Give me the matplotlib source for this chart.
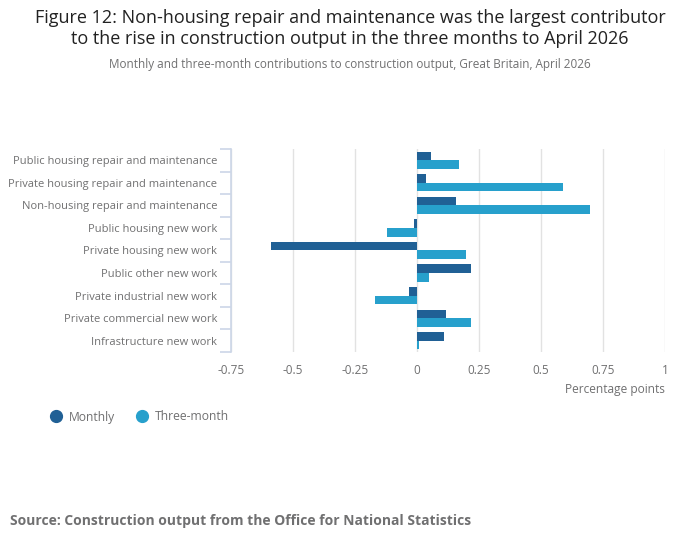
import numpy as np
import matplotlib.pyplot as plt
from matplotlib.lines import Line2D
from matplotlib.ticker import FixedLocator

plt.rcParams['font.family'] = ['Open Sans', 'DejaVu Sans']

# Data
categories = [
    'Public housing repair and maintenance',
    'Private housing repair and maintenance',
    'Non-housing repair and maintenance',
    'Public housing new work',
    'Private housing new work',
    'Public other new work',
    'Private industrial new work',
    'Private commercial new work',
    'Infrastructure new work',
]
monthly = [0.056, 0.036, 0.157, -0.012, -0.589, 0.218, -0.032, 0.117, 0.109]
three_month = [0.17, 0.589, 0.698, -0.121, 0.198, 0.048, -0.169, 0.218, 0.008]
xticks = [-0.75, -0.5, -0.25, 0, 0.25, 0.5, 0.75, 1]
xtick_labels = ['-0.75', '-0.5', '-0.25', '0', '0.25', '0.5', '0.75', '1']
series_names = ['Monthly', 'Three-month']

c_month = '#206095'
c_three = '#27a0cc'
grey = '#707071'

fig = plt.figure(figsize=(7, 5.49), dpi=100)
ax = fig.add_axes([231 / 700, 1 - 352 / 549, 434 / 700, 203 / 549])

y = np.arange(len(categories))
h = 0.38
ax.barh(y - h / 2, monthly, height=h, color=c_month, zorder=3)
ax.barh(y + h / 2, three_month, height=h, color=c_three, zorder=3)

ax.set_xlim(-0.75, 1)
ax.set_ylim(len(categories) - 0.5, -0.5)
ax.set_xticks(xticks)
ax.set_xticklabels(xtick_labels)
ax.set_yticks(y)
ax.set_yticklabels(categories)
ax.yaxis.set_minor_locator(FixedLocator(np.arange(-0.5, len(categories), 1)))

ax.grid(axis='x', color='#e2e2e2', linewidth=1, zorder=0)
for s in ['top', 'right', 'bottom']:
    ax.spines[s].set_visible(False)
ax.spines['left'].set_color('#ccd6e8')
ax.spines['left'].set_linewidth(1.2)

ax.tick_params(axis='x', length=0, pad=9, labelsize=8.5, labelcolor=grey)
ax.tick_params(axis='y', which='major', length=0, pad=10, labelsize=8, labelcolor=grey)
ax.tick_params(axis='y', which='minor', length=8, width=1.2, color='#ccd6e8')

fig.text(665 / 700, 1 - 389 / 549, 'Percentage points', ha='right',
         va='center', fontsize=8.6, color=grey)

fig.text(0.5, 1 - 18 / 549, 'Figure 12: Non-housing repair and maintenance was the largest contributor',
         ha='center', va='center', fontsize=13, color='#222222')
fig.text(0.5, 1 - 39 / 549, 'to the rise in construction output in the three months to April 2026',
         ha='center', va='center', fontsize=13, color='#222222')
fig.text(0.5, 1 - 64 / 549, 'Monthly and three-month contributions to construction output, Great Britain, April 2026',
         ha='center', va='center', fontsize=8.5, color=grey)

# legend drawn by hand to match the web layout
legend_x = [56, 142]
for lx, name, col in zip(legend_x, series_names, [c_month, c_three]):
    fig.add_artist(Line2D([lx / 700], [1 - 416 / 549], transform=fig.transFigure,
                          linestyle='none', marker='o', markersize=8.5, color=col))
    fig.text((lx + 13) / 700, 1 - 417 / 549, name, ha='left', va='center',
             fontsize=8.7, color=grey)

fig.text(10 / 700, 1 - 521 / 549, 'Source: Construction output from the Office for National Statistics',
         ha='left', va='center', fontsize=10, fontweight='bold', color=grey)

fig.savefig('out.png', dpi=100)
